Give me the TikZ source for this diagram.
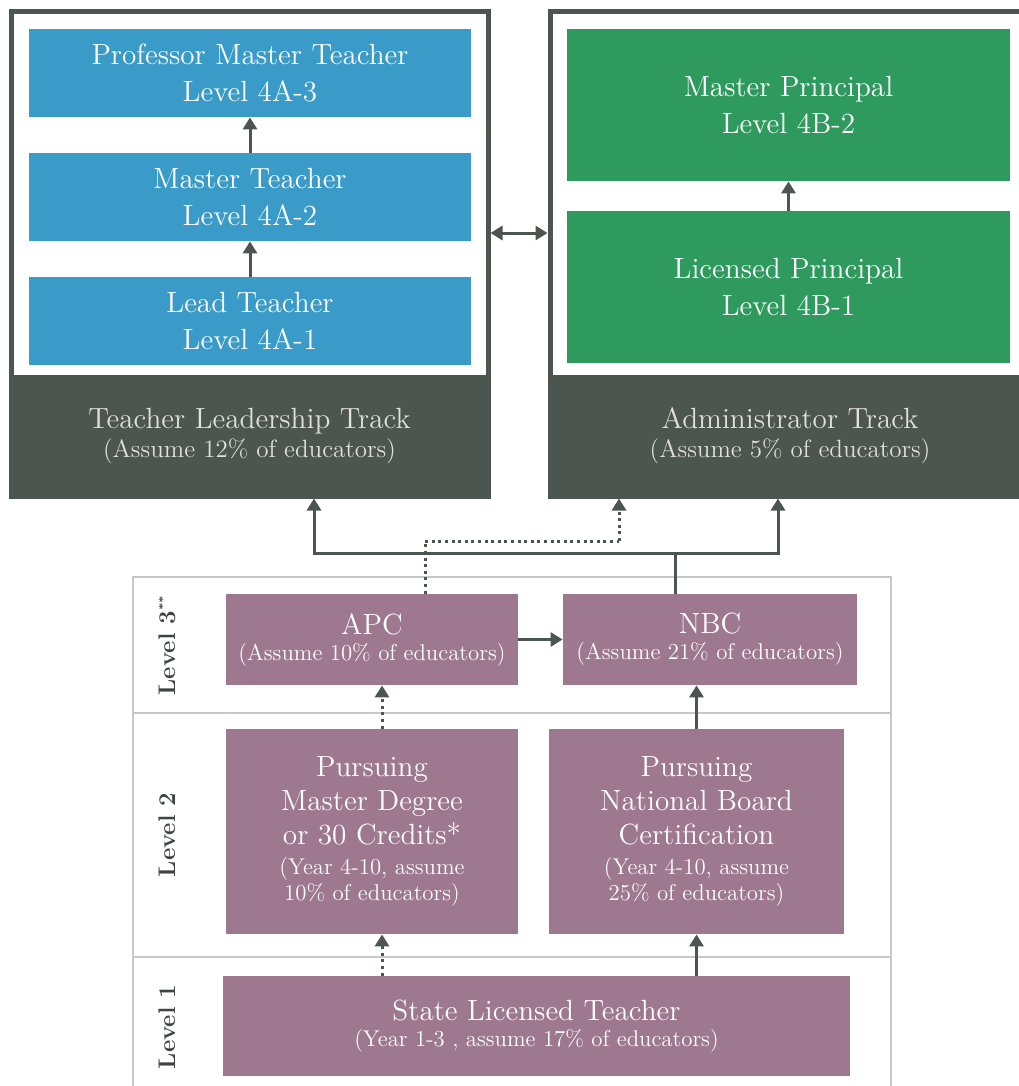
\documentclass[tikz,border=0pt]{standalone}
\usepackage{tikz}
\usetikzlibrary{positioning,arrows.meta}
\definecolor{tealblue}{HTML}{3A9BC9}
\definecolor{leafgreen}{HTML}{2F9A5E}
\definecolor{slate}{HTML}{4D5551}
\definecolor{mauve}{HTML}{9D788F}
\definecolor{rulegray}{HTML}{C9C9C9}
\newcommand{\titlefont}{\fontsize{14.6}{18.5}\selectfont}
\newcommand{\bandnote}{\fontsize{12.5}{14}\selectfont}
\newcommand{\notefont}{\fontsize{11.4}{13}\selectfont}
\tikzset{
  cell/.style={inner sep=2pt,align=center,text=white,font=\titlefont},
  bluecell/.style={cell,fill=tealblue,minimum width=221pt,minimum height=44pt},
  greencell/.style={cell,fill=leafgreen,minimum width=221.5pt,minimum height=76pt},
  band/.style={cell,fill=slate,text=white!88!black,minimum height=60.5pt},
  outline/.style={draw=slate,line width=2.5pt,minimum height=242pt},
  pcell/.style={cell,fill=mauve,font=\fontsize{14.6}{17}\selectfont},
  rowbox/.style={draw=rulegray,line width=0.8pt,minimum width=379pt},
  lvl/.style={rotate=90,font=\bfseries\fontsize{12}{14}\selectfont,text=slate!80!black},
  conn/.style={draw=slate,line width=1.5pt},
  arr/.style={conn,-{Triangle[width=7pt,length=6pt]}},
  dotconn/.style={conn,dash pattern=on 1.5pt off 1.8pt},
  dotarr/.style={dotconn,-{Triangle[width=7pt,length=6pt]}}
}
\begin{document}
\begin{tikzpicture}[x=0.5pt,y=-0.5pt]
\fill[white] (0,0) rectangle (1018,1086);
\useasboundingbox (0,0) rectangle (1018,1086);

\node[band,minimum width=238.5pt](tlt) at (249.5,435.5){Teacher Leadership Track\\[-4pt]{\bandnote (Assume 12\% of educators)}};
\node[outline,minimum width=238.5pt](tlframe) at (249.5,254){};
\node[bluecell](pmt) at (250,73){Professor Master Teacher\\Level 4A-3};
\node[bluecell](mt) at (250,197){Master Teacher\\Level 4A-2};
\node[bluecell](lt) at (250,321){Lead Teacher\\Level 4A-1};

\node[band,minimum width=240pt](adt) at (790,435.5){Administrator Track\\[-4pt]{\bandnote (Assume 5\% of educators)}};
\node[outline,minimum width=240pt](adframe) at (790,254){};
\node[greencell](mp) at (788.5,105){Master Principal\\Level 4B-2};
\node[greencell](lp) at (788.5,287){Licensed Principal\\Level 4B-1};

\draw[arr] (mt) -- (pmt);
\draw[arr] (lt) -- (mt);
\draw[arr] (lp) -- (mp);
\draw[conn,{Triangle[width=7pt,length=6pt]}-{Triangle[width=7pt,length=6pt]}] ([yshift=10.5pt]tlframe.east) -- ([yshift=10.5pt]adframe.west);

\node[rowbox,minimum height=68pt](row3) at (512,645){};
\node[rowbox,minimum height=122pt](row2) at (512,835){};
\node[rowbox,minimum height=67.5pt](row1) at (512,1024.5){};
\node[lvl](l3) at (167,645){Level 3\textsuperscript{\tiny **}};
\node[lvl](l2) at (167,835){Level 2};
\node[lvl](l1) at (167,1027){Level 1};

\node[pcell,minimum width=146pt,minimum height=45.5pt](apc) at (372,639.5){APC\\[-4pt]{\notefont (Assume 10\% of educators)}};
\node[pcell,minimum width=147pt,minimum height=45.5pt](nbc) at (710,639.5){NBC\\[-4pt]{\notefont (Assume 21\% of educators)}};
\node[pcell,minimum width=146pt,minimum height=102.5pt](md) at (372,831.5){Pursuing\\Master Degree\\or 30 Credits*\\[-2pt]{\notefont (Year 4-10, assume}\\[-4pt]{\notefont 10\% of educators)}};
\node[pcell,minimum width=147.5pt,minimum height=102.5pt](nb) at (696.5,831.5){Pursuing\\National Board\\Certification\\[-2pt]{\notefont (Year 4-10, assume}\\[-4pt]{\notefont 25\% of educators)}};
\node[pcell,minimum width=313.5pt,minimum height=50pt](slt) at (536.5,1026){State Licensed Teacher\\[-4pt]{\notefont (Year 1-3 , assume 17\% of educators)}};

\draw[dotarr] ([xshift=5pt]md.south |- slt.north) -- ([xshift=5pt]md.south);
\draw[arr] (nb.south |- slt.north) -- (nb.south);
\draw[dotarr] ([xshift=5pt]md.north) -- ([xshift=5pt]apc.south);
\draw[arr] (nb.north) -- (nb.north |- nbc.south);
\draw[arr] (apc) -- (nbc);

\coordinate (jn) at (675,553);
\coordinate (dt) at (619,541);
\draw[conn] ([xshift=-17.5pt]nbc.north) -- (jn);
\draw[arr] (jn) -| ([xshift=32.25pt]tlframe.south);
\draw[arr] (jn) -| ([xshift=-6pt]adframe.south);
\draw[dotconn] ([xshift=26.5pt]apc.north) |- (dt);
\draw[dotarr] (dt) -- (dt |- adframe.south);
\end{tikzpicture}
\end{document}
